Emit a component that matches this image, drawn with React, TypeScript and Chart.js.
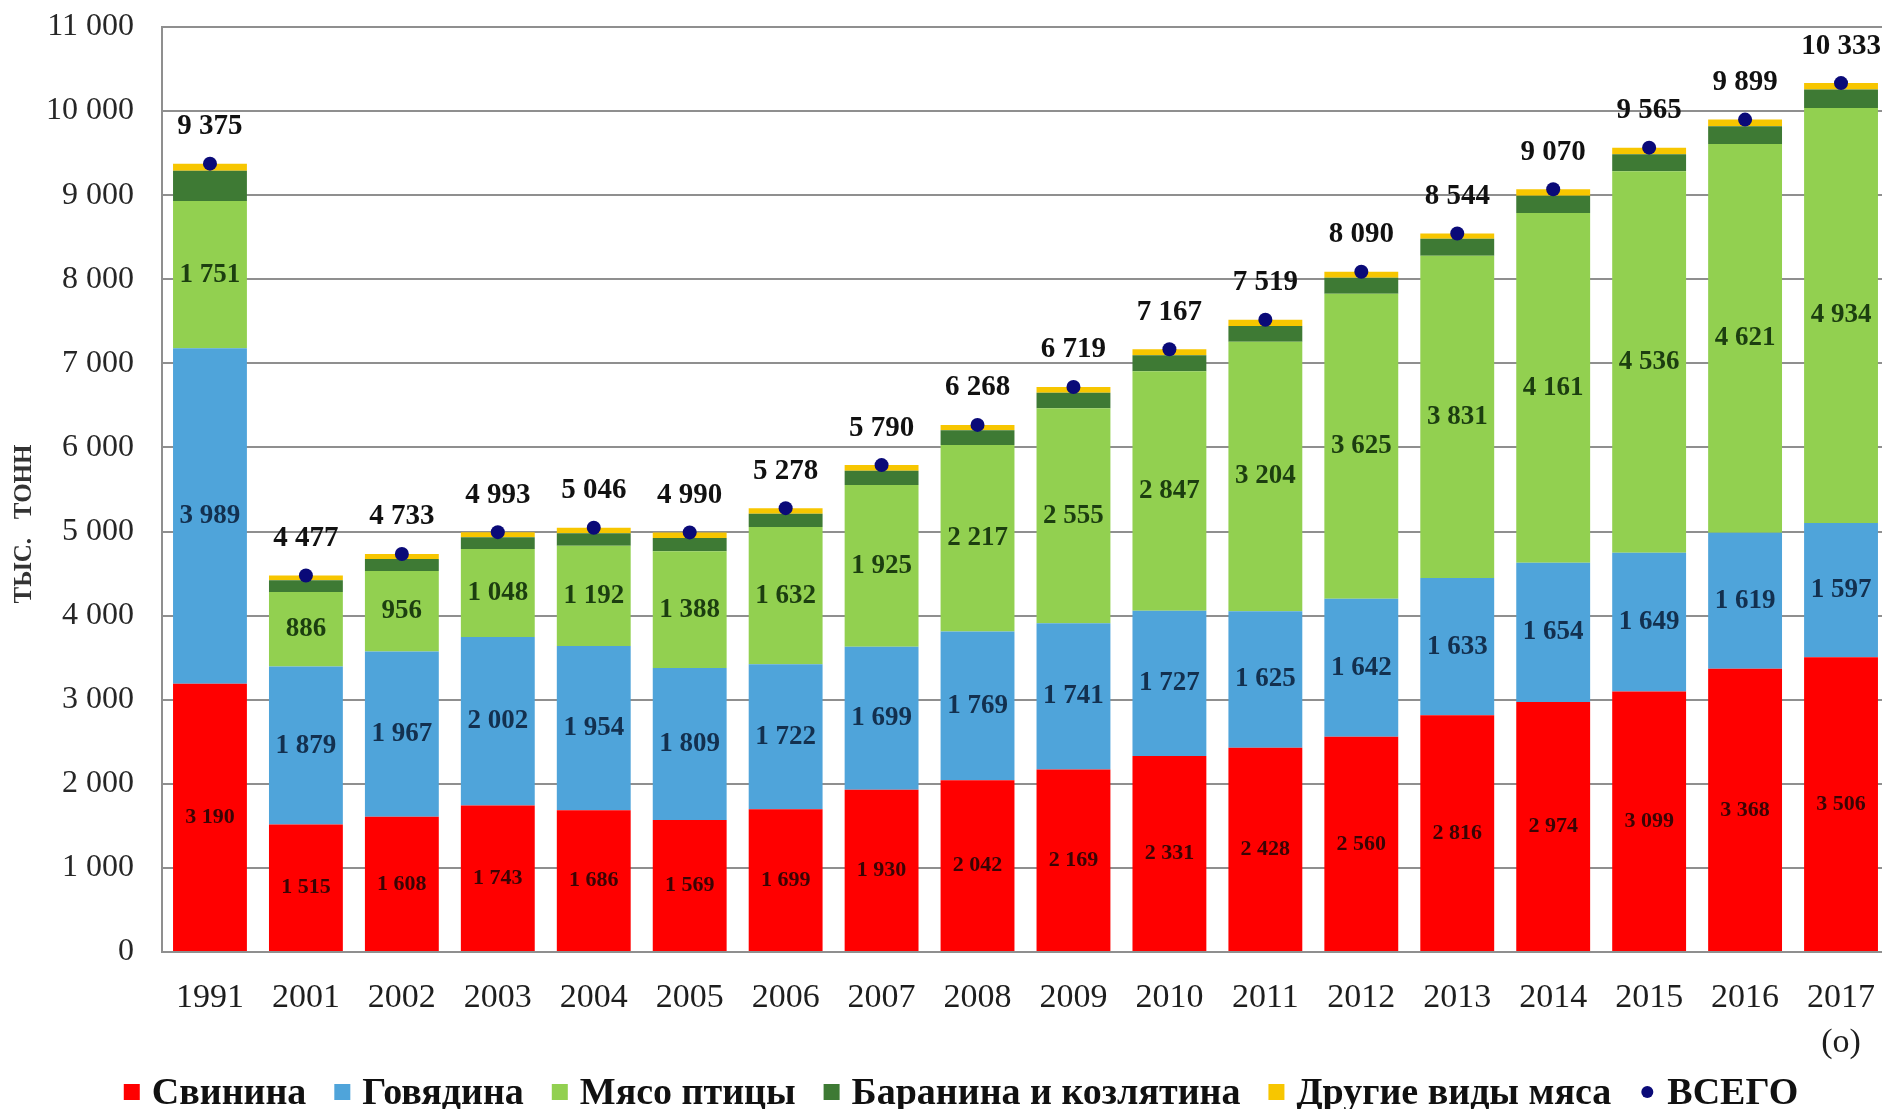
import React, { useEffect, useRef } from 'react';
import { Chart, registerables } from 'chart.js';

Chart.register(...registerables);

const years = ['1991', '2001', '2002', '2003', '2004', '2005', '2006', '2007', '2008', '2009', '2010', '2011', '2012', '2013', '2014', '2015', '2016', '2017'];
const xLabels: (string | string[])[] = [...years.slice(0, 17), ['2017', '(о)']];

const pork = [3190, 1515, 1608, 1743, 1686, 1569, 1699, 1930, 2042, 2169, 2331, 2428, 2560, 2816, 2974, 3099, 3368, 3506];
const beef = [3989, 1879, 1967, 2002, 1954, 1809, 1722, 1699, 1769, 1741, 1727, 1625, 1642, 1633, 1654, 1649, 1619, 1597];
const poultry = [1751, 886, 956, 1048, 1192, 1388, 1632, 1925, 2217, 2555, 2847, 3204, 3625, 3831, 4161, 4536, 4621, 4934];
const lamb = [360, 140, 142, 138, 149, 157, 158, 168, 176, 186, 191, 188, 190, 202, 205, 204, 212, 219];
const other = [85, 57, 60, 62, 65, 67, 67, 68, 64, 68, 71, 74, 73, 62, 76, 77, 79, 77];
const total = [9375, 4477, 4733, 4993, 5046, 4990, 5278, 5790, 6268, 6719, 7167, 7519, 8090, 8544, 9070, 9565, 9899, 10333];

const seriesNames = ['Свинина', 'Говядина', 'Мясо птицы', 'Баранина и козлятина', 'Другие виды мяса', 'ВСЕГО'];
const seriesColors = ['#FF0000', '#4FA4DA', '#92D050', '#3E7A34', '#F7C600', '#0A0A78'];
const yTitle = 'ТЫС.   ТОНН';

const SERIF = '"Liberation Serif", "Times New Roman", serif';

const fmt = (n: number) => String(n).replace(/\B(?=(\d{3})+(?!\d))/g, ' ');

const labelPlugin = {
  id: 'valueLabels',
  afterDatasetsDraw(chart: any) {
    const ctx = chart.ctx;
    ctx.save();
    ctx.textAlign = 'center';
    ctx.textBaseline = 'middle';
    const segs = [
      { i: 0, font: `bold 22px ${SERIF}`, color: '#3a0404' },
      { i: 1, font: `bold 27px ${SERIF}`, color: '#13304f' },
      { i: 2, font: `bold 27px ${SERIF}`, color: '#1c3e10' },
    ];
    segs.forEach((s) => {
      const meta = chart.getDatasetMeta(s.i);
      const data = chart.data.datasets[s.i].data as number[];
      meta.data.forEach((el: any, k: number) => {
        const p = el.getProps(['x', 'y', 'base'], true);
        ctx.font = s.font;
        ctx.fillStyle = s.color;
        ctx.fillText(fmt(data[k]), p.x, (p.y + p.base) / 2);
      });
    });
    const tm = chart.getDatasetMeta(5);
    tm.data.forEach((el: any, k: number) => {
      ctx.font = `bold 29px ${SERIF}`;
      ctx.fillStyle = '#111111';
      ctx.fillText(fmt(total[k]), el.x, el.y - 37);
    });
    ctx.restore();
  },
  afterDraw(chart: any) {
    const ctx = chart.ctx;
    ctx.save();
    // y axis title
    ctx.translate(25, 524);
    ctx.rotate(-Math.PI / 2);
    ctx.font = `bold 25px ${SERIF}`;
    ctx.fillStyle = '#333333';
    ctx.textAlign = 'center';
    ctx.textBaseline = 'middle';
    ctx.fillText(yTitle, 0, 0);
    ctx.restore();

    // legend
    ctx.save();
    ctx.font = `bold 38px ${SERIF}`;
    ctx.textBaseline = 'middle';
    ctx.textAlign = 'left';
    const marker = 16, gap1 = 12, gap2 = 28;
    const widths = seriesNames.map((n) => ctx.measureText(n).width);
    const totalW = widths.reduce((a, w) => a + marker + gap1 + w, 0) + gap2 * (seriesNames.length - 1);
    let x = 961 - totalW / 2;
    const y = 1092;
    seriesNames.forEach((n, i) => {
      ctx.fillStyle = seriesColors[i];
      if (i === 5) {
        ctx.beginPath();
        ctx.arc(x + marker / 2, y, 6, 0, Math.PI * 2);
        ctx.fill();
      } else {
        ctx.fillRect(x, y - marker / 2, marker, marker);
      }
      x += marker + gap1;
      ctx.fillStyle = '#111111';
      ctx.fillText(n, x, y + 2);
      x += widths[i] + gap2;
    });
    ctx.restore();
  },
};

export default function App() {
  const ref = useRef<HTMLCanvasElement | null>(null);

  useEffect(() => {
    if (!ref.current) return;
    const barDs = (i: number, data: number[]) => ({
      type: 'bar' as const,
      label: seriesNames[i],
      data,
      backgroundColor: seriesColors[i],
      borderWidth: 0,
      stack: 'meat',
      order: 1,
      barPercentage: 0.77,
      categoryPercentage: 1,
    });
    const chart = new Chart(ref.current, {
      type: 'bar',
      data: {
        labels: xLabels as any,
        datasets: [
          barDs(0, pork),
          barDs(1, beef),
          barDs(2, poultry),
          barDs(3, lamb),
          barDs(4, other),
          {
            type: 'line' as const,
            label: seriesNames[5],
            data: total,
            showLine: false,
            pointRadius: 7,
            pointBackgroundColor: seriesColors[5],
            pointBorderWidth: 0,
            borderColor: seriesColors[5],
            stack: 'total',
            order: -1,
          } as any,
        ],
      },
      options: {
        animation: false,
        responsive: false,
        devicePixelRatio: 1,
        layout: { padding: { left: 0, right: 11, top: 27, bottom: 0 } },
        plugins: {
          legend: { display: false },
          tooltip: { enabled: false },
        },
        scales: {
          x: {
            stacked: true,
            grid: { display: false, drawTicks: false },
            border: { display: true, color: '#8f8f8f', width: 2 },
            ticks: {
              autoSkip: false,
              maxRotation: 0,
              padding: 24,
              color: '#1e1e1e',
              font: { family: SERIF, size: 34, lineHeight: 1.32 },
            },
            afterFit: (s: any) => { s.height = 157; s.paddingLeft = 0; s.paddingRight = 0; },
          },
          y: {
            stacked: true,
            min: 0,
            max: 11000,
            grid: { color: '#8f8f8f', lineWidth: 2, drawTicks: false },
            border: { display: true, color: '#8f8f8f', width: 2 },
            ticks: {
              stepSize: 1000,
              padding: 28,
              color: '#262626',
              font: { family: SERIF, size: 32 },
              callback: (v: any) => fmt(Number(v)),
            },
            afterFit: (s: any) => { s.width = 162; s.paddingTop = 0; s.paddingBottom = 0; },
          },
        },
      },
      plugins: [labelPlugin],
    });
    return () => chart.destroy();
  }, []);

  return (
    <div style={{ position: 'fixed', left: 0, top: 0, width: 1882, height: 1109, overflow: 'hidden', background: '#ffffff' }}>
      <canvas ref={ref} width={1900} height={1109} style={{ display: 'block' }} />
    </div>
  );
}
